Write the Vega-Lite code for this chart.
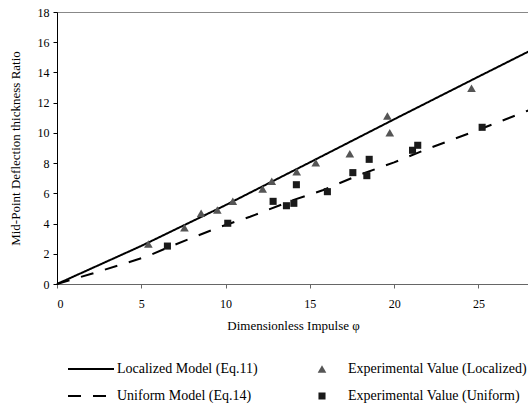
{
  "$schema": "https://vega.github.io/schema/vega-lite/v6.json",
  "width": 472,
  "height": 272,
  "autosize": "none",
  "padding": {"left": 57, "top": 12, "right": 0, "bottom": 123},
  "background": "white",
  "config": {
    "font": "Liberation Serif",
    "view": {"stroke": "#888888", "strokeWidth": 1},
    "axis": {
      "grid": false,
      "labelFont": "Liberation Serif",
      "labelFontSize": 12,
      "labelColor": "black",
      "titleFont": "Liberation Serif",
      "titleFontSize": 13,
      "titleFontWeight": "normal",
      "titleColor": "black",
      "tickSize": 4
    },
    "legend": {
      "labelFont": "Liberation Serif",
      "labelFontSize": 14,
      "labelColor": "black",
      "labelLimit": 0
    }
  },
  "datasets": {
    "models": [
      {"phi": 0, "ratio": 0, "series": "Localized Model (Eq.11)"},
      {"phi": 5, "ratio": 2.52, "series": "Localized Model (Eq.11)"},
      {"phi": 10, "ratio": 5.22, "series": "Localized Model (Eq.11)"},
      {"phi": 15, "ratio": 8.05, "series": "Localized Model (Eq.11)"},
      {"phi": 20, "ratio": 10.9, "series": "Localized Model (Eq.11)"},
      {"phi": 25, "ratio": 13.72, "series": "Localized Model (Eq.11)"},
      {"phi": 28, "ratio": 15.4, "series": "Localized Model (Eq.11)"},
      {"phi": 0, "ratio": 0, "series": "Uniform Model (Eq.14)"},
      {"phi": 2, "ratio": 0.66, "series": "Uniform Model (Eq.14)"},
      {"phi": 4, "ratio": 1.35, "series": "Uniform Model (Eq.14)"},
      {"phi": 5.3, "ratio": 1.81, "series": "Uniform Model (Eq.14)"},
      {"phi": 6.5, "ratio": 2.38, "series": "Uniform Model (Eq.14)"},
      {"phi": 8, "ratio": 3.05, "series": "Uniform Model (Eq.14)"},
      {"phi": 9.7, "ratio": 3.79, "series": "Uniform Model (Eq.14)"},
      {"phi": 11.45, "ratio": 4.45, "series": "Uniform Model (Eq.14)"},
      {"phi": 12.5, "ratio": 4.9, "series": "Uniform Model (Eq.14)"},
      {"phi": 14, "ratio": 5.55, "series": "Uniform Model (Eq.14)"},
      {"phi": 15.8, "ratio": 6.22, "series": "Uniform Model (Eq.14)"},
      {"phi": 18, "ratio": 7.25, "series": "Uniform Model (Eq.14)"},
      {"phi": 20, "ratio": 8.05, "series": "Uniform Model (Eq.14)"},
      {"phi": 22, "ratio": 8.95, "series": "Uniform Model (Eq.14)"},
      {"phi": 25, "ratio": 10.2, "series": "Uniform Model (Eq.14)"},
      {"phi": 28, "ratio": 11.5, "series": "Uniform Model (Eq.14)"}
    ],
    "experiments": [
      {"phi": 5.42, "ratio": 2.65, "series": "Experimental Value (Localized)"},
      {"phi": 7.56, "ratio": 3.73, "series": "Experimental Value (Localized)"},
      {"phi": 8.55, "ratio": 4.68, "series": "Experimental Value (Localized)"},
      {"phi": 9.51, "ratio": 4.9, "series": "Experimental Value (Localized)"},
      {"phi": 10.43, "ratio": 5.47, "series": "Experimental Value (Localized)"},
      {"phi": 12.2, "ratio": 6.28, "series": "Experimental Value (Localized)"},
      {"phi": 12.74, "ratio": 6.8, "series": "Experimental Value (Localized)"},
      {"phi": 14.22, "ratio": 7.43, "series": "Experimental Value (Localized)"},
      {"phi": 15.35, "ratio": 8.03, "series": "Experimental Value (Localized)"},
      {"phi": 17.37, "ratio": 8.62, "series": "Experimental Value (Localized)"},
      {"phi": 19.6, "ratio": 11.12, "series": "Experimental Value (Localized)"},
      {"phi": 19.74, "ratio": 10.01, "series": "Experimental Value (Localized)"},
      {"phi": 24.59, "ratio": 12.95, "series": "Experimental Value (Localized)"},
      {"phi": 6.55, "ratio": 2.51, "series": "Experimental Value (Uniform)"},
      {"phi": 10.13, "ratio": 4.02, "series": "Experimental Value (Uniform)"},
      {"phi": 12.82, "ratio": 5.47, "series": "Experimental Value (Uniform)"},
      {"phi": 13.61, "ratio": 5.18, "series": "Experimental Value (Uniform)"},
      {"phi": 14.05, "ratio": 5.34, "series": "Experimental Value (Uniform)"},
      {"phi": 14.2, "ratio": 6.57, "series": "Experimental Value (Uniform)"},
      {"phi": 16.04, "ratio": 6.11, "series": "Experimental Value (Uniform)"},
      {"phi": 17.55, "ratio": 7.37, "series": "Experimental Value (Uniform)"},
      {"phi": 18.38, "ratio": 7.17, "series": "Experimental Value (Uniform)"},
      {"phi": 18.52, "ratio": 8.25, "series": "Experimental Value (Uniform)"},
      {"phi": 21.09, "ratio": 8.85, "series": "Experimental Value (Uniform)"},
      {"phi": 21.4, "ratio": 9.18, "series": "Experimental Value (Uniform)"},
      {"phi": 25.22, "ratio": 10.37, "series": "Experimental Value (Uniform)"}
    ]
  },
  "encoding": {
    "x": {
      "field": "phi",
      "type": "quantitative",
      "scale": {"domain": [0, 28], "nice": false},
      "axis": {
        "title": "Dimensionless Impulse φ",
        "values": [0, 5, 10, 15, 20, 25],
        "domainColor": "#666666",
        "tickColor": "#666666",
        "labelPadding": 10,
        "titlePadding": 10
      }
    },
    "y": {
      "field": "ratio",
      "type": "quantitative",
      "scale": {"domain": [0, 18], "nice": false},
      "axis": {
        "title": "Mid-Point Deflection thickness Ratio",
        "values": [0, 2, 4, 6, 8, 10, 12, 14, 16, 18],
        "domainColor": "black",
        "tickColor": "black",
        "labelPadding": 4,
        "titlePadding": 15
      }
    }
  },
  "layer": [
    {
      "data": {"name": "models"},
      "mark": {"type": "line", "color": "black", "strokeWidth": 2},
      "encoding": {
        "strokeDash": {
          "field": "series",
          "type": "nominal",
          "scale": {
            "domain": ["Localized Model (Eq.11)", "Uniform Model (Eq.14)"],
            "range": [[1, 0], [13, 12]]
          },
          "legend": {
            "title": null,
            "orient": "none",
            "legendX": 10,
            "legendY": 350,
            "symbolType": "stroke",
            "symbolSize": 2116,
            "symbolStrokeWidth": 2,
            "symbolStrokeColor": "black",
            "clipHeight": 14,
            "labelOffset": 2,
            "rowPadding": 13
          }
        }
      }
    },
    {
      "data": {"name": "experiments"},
      "mark": {"type": "point", "filled": true, "opacity": 1},
      "encoding": {
        "size": {
          "field": "series",
          "type": "nominal",
          "scale": {
            "domain": ["Experimental Value (Localized)", "Experimental Value (Uniform)"],
            "range": [75, 50]
          },
          "legend": null
        },
        "shape": {
          "field": "series",
          "type": "nominal",
          "scale": {
            "domain": ["Experimental Value (Localized)", "Experimental Value (Uniform)"],
            "range": ["triangle-up", "square"]
          },
          "legend": {
            "title": null,
            "orient": "none",
            "legendX": 258,
            "legendY": 350,
            "symbolSize": 35,
            "clipHeight": 14,
            "labelOffset": 19,
            "rowPadding": 13
          }
        },
        "color": {
          "field": "series",
          "type": "nominal",
          "scale": {
            "domain": ["Experimental Value (Localized)", "Experimental Value (Uniform)"],
            "range": ["#555555", "#1a1a1a"]
          },
          "legend": {
            "title": null,
            "orient": "none",
            "legendX": 258,
            "legendY": 350,
            "symbolSize": 35,
            "clipHeight": 14,
            "labelOffset": 19,
            "rowPadding": 13
          }
        }
      }
    }
  ]
}
